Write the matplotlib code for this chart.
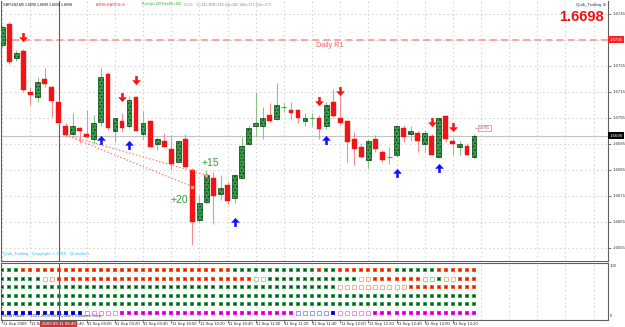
import matplotlib
matplotlib.use("Agg")
import matplotlib.pyplot as plt
from matplotlib.path import Path
from matplotlib.transforms import blended_transform_factory
import numpy as np

plt.rcParams['font.family'] = ['Liberation Sans', 'DejaVu Sans']
plt.rcParams['hatch.linewidth'] = 0.7
plt.rcParams['lines.scale_dashes'] = False

# ---------------- data ----------------
header_symbol = "GBPUSD,M5 1.6690 1.6699 1.6690 1.6698"
header_atr = "ATR8=8 ATR36=6"
header_res = "ResUp=120 ResDn=180"
header_tr = "Tr=50"
header_ranges = "Yr=211 4DR=183 5dr=185 10dr=173 20dr=173"

opens = [1.67330, 1.67410, 1.67280, 1.67307, 1.67149, 1.67130, 1.67199, 1.67168, 1.67111, 1.67018,
         1.66988, 1.67011, 1.66988, 1.66968, 1.67034, 1.67218, 1.66999, 1.67038, 1.67018, 1.67130,
         1.66988, 1.67038, 1.66949, 1.66961, 1.66930, 1.66880, 1.66968, 1.66849, 1.66657, 1.66726,
         1.66818, 1.66757, 1.66792, 1.66741, 1.66818, 1.66949, 1.67018, 1.67018, 1.67061, 1.67045,
         1.67092, 1.67080, 1.67080, 1.67038, 1.67049, 1.67049, 1.67018, 1.67111, 1.67049, 1.67038,
         1.66968, 1.66938, 1.66888, 1.66968, 1.66918, 1.66899, 1.66907, 1.67011, 1.66988, 1.66992,
         1.66949, 1.66980, 1.66899, 1.67057, 1.66961, 1.66938, 1.66942, 1.66899]
highs = [1.67407, 1.67418, 1.67310, 1.67314, 1.67168, 1.67207, 1.67241, 1.67172, 1.67118, 1.67030,
         1.67068, 1.67015, 1.67080, 1.67061, 1.67241, 1.67226, 1.67049, 1.67068, 1.67134, 1.67134,
         1.67076, 1.67042, 1.66976, 1.66992, 1.66984, 1.66961, 1.66988, 1.66857, 1.66753, 1.66849,
         1.66841, 1.66830, 1.66803, 1.66834, 1.66976, 1.67022, 1.67149, 1.67092, 1.67107, 1.67184,
         1.67107, 1.67111, 1.67084, 1.67068, 1.67068, 1.67061, 1.67111, 1.67161, 1.67157, 1.67042,
         1.66995, 1.66953, 1.66968, 1.66984, 1.66926, 1.66938, 1.67022, 1.67022, 1.67018, 1.66999,
         1.67003, 1.66988, 1.67049, 1.67061, 1.66976, 1.66961, 1.66953, 1.66988]
lows = [1.67322, 1.67257, 1.67268, 1.67149, 1.67099, 1.67111, 1.67168, 1.67053, 1.67026, 1.66976,
        1.66984, 1.66953, 1.66972, 1.66949, 1.67018, 1.67003, 1.66957, 1.66995, 1.67011, 1.66999,
        1.66968, 1.66938, 1.66926, 1.66938, 1.66849, 1.66876, 1.66857, 1.66561, 1.66649, 1.66718,
        1.66641, 1.66734, 1.66718, 1.66722, 1.66815, 1.66945, 1.66976, 1.66968, 1.67034, 1.67042,
        1.67072, 1.67042, 1.67030, 1.67018, 1.67018, 1.66968, 1.67007, 1.67049, 1.67022, 1.66880,
        1.66868, 1.66895, 1.66857, 1.66918, 1.66880, 1.66872, 1.66899, 1.66957, 1.66961, 1.66918,
        1.66918, 1.66907, 1.66895, 1.66957, 1.66907, 1.66907, 1.66907, 1.66895]
closes = [1.67399, 1.67264, 1.67299, 1.67157, 1.67138, 1.67187, 1.67180, 1.67115, 1.67030, 1.66984,
          1.67018, 1.66999, 1.66976, 1.67030, 1.67207, 1.67011, 1.67049, 1.67011, 1.67118, 1.66999,
          1.67030, 1.66938, 1.66968, 1.66938, 1.66872, 1.66961, 1.66861, 1.66649, 1.66722, 1.66830,
          1.66749, 1.66780, 1.66730, 1.66830, 1.66942, 1.67011, 1.67030, 1.67049, 1.67038, 1.67099,
          1.67092, 1.67068, 1.67049, 1.67049, 1.67049, 1.67007, 1.67099, 1.67057, 1.67030, 1.66957,
          1.66930, 1.66899, 1.66961, 1.66930, 1.66888, 1.66899, 1.67018, 1.66976, 1.66999, 1.66961,
          1.66992, 1.66907, 1.67049, 1.66968, 1.66949, 1.66949, 1.66907, 1.66980]

red_arrow_bars = [3, 17, 19, 45, 48, 61, 64]
red_arrow_prices = [1.67361, 1.67130, 1.67195, 1.67115, 1.67153, 1.67034, 1.67015]
blue_arrow_bars = [14, 18, 33, 46, 56, 62]
blue_arrow_prices = [1.66965, 1.66945, 1.66649, 1.66965, 1.66838, 1.66857]

daily_r1 = 1.6735
bid = 1.6698
vline_bar = 8
vline_label = "2009.09.11 08:40"

trend_start_bar = 9
trend_start_price = 1.66984
trend_end_bars = [29, 27]
trend_end_prices = [1.66830, 1.66785]
trend_texts = ["+15", "+20"]
trend_text_bars = [29.6, 25.2]
trend_text_prices = [1.66876, 1.66734]

last_label_bar = 67.65
last_label_price = 1.6701

price_ticks = [1.6745, 1.6735, 1.6725, 1.6715, 1.6705, 1.6695, 1.6685, 1.6675, 1.6665, 1.6655]

tick_bars = [0, 4, 8, 12, 16, 20, 24, 28, 32, 36, 40, 44, 48, 52, 56, 60, 64]
tick_labels = ["11 Sep 2009", "11 Sep 08:20", "11 Sep 08:40", "11 Sep 09:00", "11 Sep 09:20",
               "11 Sep 09:40", "11 Sep 10:00", "11 Sep 10:20", "11 Sep 10:40", "11 Sep 11:00",
               "11 Sep 11:20", "11 Sep 11:40", "11 Sep 12:00", "11 Sep 12:20", "11 Sep 12:40",
               "11 Sep 13:00", "11 Sep 13:20"]

# indicator dot rows (top to bottom): G/g green, O/o orange, M/m magenta, B/b blue; lower case = hollow
dot_row1 = "GGG" + "O" * 30 + "G" * 12 + "O" + "GG" + "O" * 8 + "G" * 6 + "O" * 6
dot_row2 = "G" * 6 + "oo" + "O" * 28 + "gg" + "G" * 13 + "oo" + "O" * 7 + "gg" + "G" + "oo" + "OOO"
dot_row3 = "G" * 48 + "o" * 10 + "O" * 10
dot_row4 = "G" * 68
dot_row5 = "G" * 68
dot_row6 = "B" * 12 + "m" * 5 + "M" * 25 + "b" * 5 + "B" + "m" * 5 + "M" * 15
dot_rows = [dot_row1, dot_row2, dot_row3, dot_row4, dot_row5, dot_row6]

# ---------------- layout ----------------
W, H, DPI = 625, 327, 100
fig = plt.figure(figsize=(W / DPI, H / DPI), dpi=DPI, facecolor='white')

def fx(px):
    return px / W

def fy(py):
    return 1 - py / H

L, R = 1, 608
ax = fig.add_axes([fx(L), fy(261), fx(R - L), (261 - 1) / H])
axl = fig.add_axes([fx(L), fy(320), fx(R - L), (320 - 263) / H])

xlim = (-0.185, 86.04)
for a in (ax, axl):
    a.set_xlim(*xlim)
    a.set_facecolor('white')
    for s in a.spines.values():
        s.set_color('#606060')
        s.set_linewidth(0.8)
ax.spines['top'].set_visible(False)
ax.set_ylim(1.66499, 1.67499)
axl.set_ylim(-0.814, 5.814)

grid_bars = list(range(0, 88, 4))
grid_kw = dict(color='#c8c8c8', lw=0.6, ls=(0, (1, 2)), zorder=0)
for gb in grid_bars:
    ax.axvline(gb, **grid_kw)
    axl.axvline(gb, **grid_kw)
for pt in price_ticks:
    ax.axhline(pt, **grid_kw)

# right price axis (the R1 box covers the label at the R1 level)
ax.yaxis.tick_right()
ax.set_yticks(price_ticks)
ax.set_yticklabels(["" if abs(p - daily_r1) < 1e-6 else f"{p:.4f}" for p in price_ticks])
ax.tick_params(axis='y', length=2, width=0.6, colors='#606060', labelsize=3.1, pad=1,
               labelcolor='#333333')
ax.set_xticks([])
axl.set_yticks([])
axl.set_xticks(tick_bars)
axl.set_xticklabels([])
axl.tick_params(axis='x', length=2, width=0.6, colors='#606060')
trans_b = blended_transform_factory(axl.transData, axl.transAxes)
for tb, tl in zip(tick_bars, tick_labels):
    axl.text(tb + 0.05, -0.068, tl, transform=trans_b, fontsize=3.1, color='#333333',
             ha='left', va='center', clip_on=False)

# bid line and daily R1
ax.axhline(bid, color='#c4c4c4', lw=0.8, zorder=1)
ax.axhline(daily_r1, color='#ff9c9c', lw=1.3, ls=(0, (5, 3)), zorder=1)
ax.text(46.5, daily_r1 - 0.00008, "Daily R1", color='#f06060', fontsize=5.2, va='top', ha='center')

# vertical line
ax.axvline(vline_bar, color='#b83a3a', lw=0.8, zorder=2)
axl.axvline(vline_bar, color='#b83a3a', lw=0.8, zorder=5)

# candles
x = np.arange(len(opens))
o = np.array(opens); c = np.array(closes); h = np.array(highs); lo = np.array(lows)
up = c > o
dn = c < o
dj = c == o
bw = 0.68
ax.vlines(x[up | dj], lo[up | dj], h[up | dj], color='#84c884', lw=0.8, zorder=3)
ax.vlines(x[dn], lo[dn], h[dn], color='#ff8c8c', lw=0.8, zorder=3)
ax.bar(x[up], (c - o)[up], bottom=o[up], width=bw, color='#35a048', edgecolor='#0c3c12',
       hatch='.....', lw=0.5, zorder=4)
ax.bar(x[dn], (o - c)[dn], bottom=c[dn], width=bw, color='#f21414', edgecolor='#f21414',
       lw=0.3, zorder=4)
ax.hlines(o[dj], x[dj] - bw / 2, x[dj] + bw / 2, color='#5a9a5a', lw=0.8, zorder=4)

# arrows
down_path = Path([(-0.13, 0.5), (0.13, 0.5), (0.13, 0.0), (0.45, 0.0), (0.0, -0.5),
                  (-0.45, 0.0), (-0.13, 0.0), (-0.13, 0.5)], closed=True)
up_path = Path([(-0.13, -0.5), (0.13, -0.5), (0.13, 0.0), (0.45, 0.0), (0.0, 0.5),
                (-0.45, 0.0), (-0.13, 0.0), (-0.13, -0.5)], closed=True)
ax.plot(red_arrow_bars, red_arrow_prices, ls='none', marker=down_path, ms=6.2,
        color='#ff1010', mec='#ff1010', mew=0.3, zorder=6)
ax.plot(blue_arrow_bars, blue_arrow_prices, ls='none', marker=up_path, ms=6.2,
        color='#1010ff', mec='#1010ff', mew=0.3, zorder=6)

# trend lines
for eb, ep in zip(trend_end_bars, trend_end_prices):
    ax.plot([trend_start_bar, eb], [trend_start_price, ep], ls=(0, (1, 1.5)), color='#ff6a6a',
            lw=0.8, zorder=5)
ax.plot(trend_end_bars, trend_end_prices, ls='none', marker='s', ms=2, color='#f0a060', zorder=6)
for tb, tp, tt in zip(trend_text_bars, trend_text_prices, trend_texts):
    ax.text(tb, tp, tt, color='#3a9a3a', fontsize=7.5, ha='center', va='center', zorder=7)

# small price label near last bar
ax.plot([len(opens) - 0.8, last_label_bar], [last_label_price, last_label_price],
        color='#e08080', lw=0.5, zorder=5)
ax.text(last_label_bar + 0.1, last_label_price, f"{last_label_price:.4f}", fontsize=2.6,
        color='#c04040', ha='left', va='center', zorder=7,
        bbox=dict(boxstyle='square,pad=0.3', fc='white', ec='#e08080', lw=0.5))

# right-axis boxes
trans_r = blended_transform_factory(ax.transAxes, ax.transData)
ax.text(1.002, daily_r1, f"{daily_r1:.4f}", transform=trans_r, fontsize=3.1, color='white',
        ha='left', va='center', clip_on=False, zorder=10,
        bbox=dict(boxstyle='square,pad=0.35', fc='#ff2020', ec='#ff2020', lw=0))
ax.text(1.002, bid, f"{bid:.4f}", transform=trans_r, fontsize=3.1, color='white',
        ha='left', va='center', clip_on=False, zorder=10,
        bbox=dict(boxstyle='square,pad=0.35', fc='black', ec='black', lw=0))

# big price + indicator name
ax.text(0.9934, 0.938, f"{bid:.4f}", transform=ax.transAxes, fontsize=10.5, fontweight='bold',
        color='#f01010', ha='right', va='center')
ax.text(0.9965, 0.983, "Quik_Trailing \u2299", transform=ax.transAxes, fontsize=3.2,
        color='#333333', ha='right', va='center')

# header
hfs = 2.6
fig.text(fx(3), fy(4.5), header_symbol, fontsize=hfs, color='#111111', va='center')
fig.text(fx(96), fy(4.5), header_atr, fontsize=hfs, color='#ff2020', va='center')
fig.text(fx(142), fy(4.5), header_res, fontsize=hfs, color='#22aa22', va='center')
fig.text(fx(184), fy(4.5), header_tr, fontsize=hfs, color='#888888', va='center')
fig.text(fx(196), fy(4.5), header_ranges, fontsize=hfs, color='#888888', va='center')

fig.text(fx(3), fy(254.5), "Quik_Trailing   Copyright \u00a9 2009   Quiksilver", fontsize=3.2,
         color='#33bbee', va='center')

# indicator dots
colors_fill = {'G': ('#3aa655', '#0d4a18'), 'O': ('#ff5a2a', '#d82000'),
               'M': ('#ff10ff', '#b000b0'), 'B': ('#1010ff', '#00008a')}
colors_hollow = {'g': '#8fcf8f', 'o': '#ffa080', 'm': '#f080f0', 'b': '#8a8aff'}
for r, row in enumerate(dot_rows):
    yv = 5 - r
    for code in sorted(set(row)):
        idx = [i for i, ch in enumerate(row) if ch == code]
        ys = [yv] * len(idx)
        if code in colors_fill:
            outer, inner = colors_fill[code]
            axl.scatter(idx, ys, s=9, marker='s', color=outer, lw=0, zorder=3)
            axl.scatter(idx, ys, s=1.6, marker='s', color=inner, lw=0, zorder=4)
        else:
            axl.scatter(idx, ys, s=7, marker='s', facecolor='white', edgecolor=colors_hollow[code],
                        lw=0.6, zorder=3)

fig.text(fx(3), fy(315.5), "MetaTrader, \u00a9 2001-2009 MetaQuotes Software Corp.", fontsize=3.0,
         color='#444444', va='center', zorder=10)
fig.text(fx(610), fy(266), "100", fontsize=3.1, color='#333333', va='center')
fig.text(fx(610), fy(316), "0", fontsize=3.1, color='#333333', va='center')

# time label box for vertical line
axl.text(vline_bar, -0.068, vline_label, transform=trans_b, fontsize=3.2, color='white',
         ha='center', va='center', clip_on=False, zorder=10,
         bbox=dict(boxstyle='square,pad=0.3', fc='#c83636', ec='#c83636', lw=0))

fig.savefig("out.png", dpi=DPI, facecolor='white')
